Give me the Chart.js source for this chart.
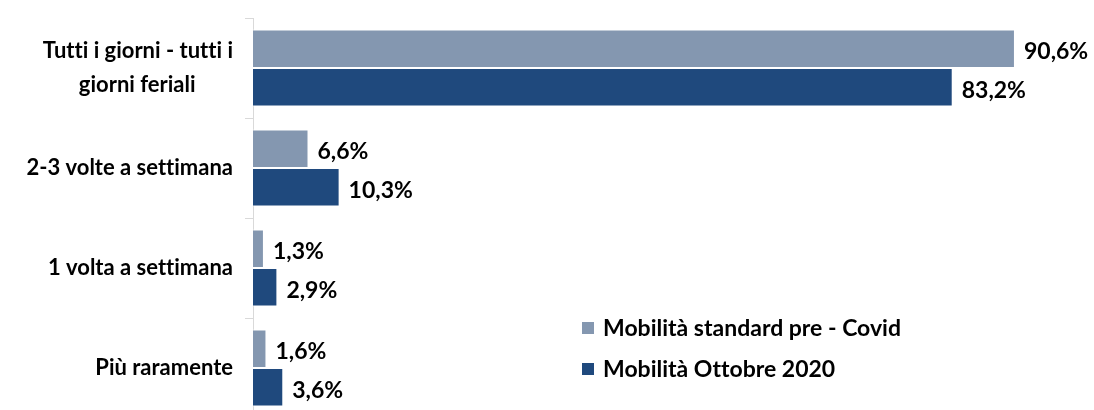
<!DOCTYPE html>
<html>
<head>
<meta charset="utf-8">
<script src="https://cdn.jsdelivr.net/npm/chart.js@4.4.1/dist/chart.umd.min.js"></script>
<style>
html,body{margin:0;padding:0;background:#fff;overflow:hidden;height:410px;}
#wrap{position:relative;width:1094px;height:418px;}
</style>
</head>
<body>
<div id="wrap"><canvas id="c"></canvas></div>
<script>
const categories = [
  ['Tutti i giorni - tutti i', 'giorni feriali\u00A0\u00A0\u00A0\u00A0\u00A0\u00A0\u00A0'],
  '2-3 volte a settimana',
  '1 volta a settimana',
  'Più raramente'
];
const seriesNames = ['Mobilità standard pre - Covid', 'Mobilità Ottobre 2020'];
const preCovid = [90.6, 6.6, 1.3, 1.6];
const ottobre2020 = [83.2, 10.3, 2.9, 3.6];
const colors = ['#8497B0', '#1F497D'];

const FONT = 'Lato, "Open Sans", sans-serif';

const noLigatures = {
  id: 'noLigatures',
  beforeDraw(chart) {
    const ctx = chart.ctx;
    try { ctx.textRendering = 'optimizeSpeed'; } catch (e) {}
  }
};

const valueLabels = {
  id: 'valueLabels',
  afterDatasetsDraw(chart) {
    const ctx = chart.ctx;
    ctx.save();
    try { ctx.textRendering = 'optimizeSpeed'; } catch (e) {}
    ctx.font = 'bold 23px ' + FONT;
    ctx.fillStyle = '#000';
    ctx.textAlign = 'left';
    ctx.textBaseline = 'middle';
    chart.data.datasets.forEach((ds, i) => {
      const meta = chart.getDatasetMeta(i);
      meta.data.forEach((bar, j) => {
        const txt = ds.data[j].toFixed(1).replace('.', ',') + '%';
        ctx.fillText(txt, bar.x + 9, bar.y + 3);
      });
    });
    ctx.restore();
  }
};

const customLegend = {
  id: 'customLegend',
  afterDraw(chart) {
    const ctx = chart.ctx;
    ctx.save();
    try { ctx.textRendering = 'optimizeSpeed'; } catch (e) {}
    ctx.font = 'bold 23px ' + FONT;
    ctx.textBaseline = 'middle';
    ctx.textAlign = 'left';
    const ys = [328, 369];
    chart.data.datasets.forEach((ds, i) => {
      ctx.fillStyle = ds.backgroundColor;
      ctx.fillRect(582, ys[i] - 6, 12, 12);
      ctx.fillStyle = '#000';
      ctx.fillText(ds.label, 603, ys[i] + 1);
    });
    ctx.restore();
  }
};

new Chart(document.getElementById('c'), {
  type: 'bar',
  data: {
    labels: categories,
    datasets: [
      { label: seriesNames[0], data: preCovid, backgroundColor: colors[0], borderColor: '#fff', borderWidth: 1, borderSkipped: 'start' },
      { label: seriesNames[1], data: ottobre2020, backgroundColor: colors[1], borderColor: '#fff', borderWidth: 1, borderSkipped: 'start' }
    ]
  },
  options: {
    indexAxis: 'y',
    responsive: true,
    maintainAspectRatio: false,
    animation: false,
    layout: { padding: { top: 18, bottom: 0, left: 0, right: 0 } },
    datasets: { bar: { barPercentage: 1, categoryPercentage: 0.77 } },
    plugins: {
      legend: { display: false },
      tooltip: { enabled: false }
    },
    scales: {
      x: {
        min: 0, max: 100,
        display: false,
        grid: { display: false }
      },
      y: {
        afterFit(scale) { scale.width = 253; scale.paddingTop = 0; scale.paddingBottom = 0; },
        border: { display: true, color: '#D9D9D9', width: 1 },
        grid: { display: true, drawOnChartArea: false, drawTicks: true, tickLength: 8, color: '#D9D9D9' },
        ticks: {
          color: '#000',
          padding: 12,
          font: { family: FONT, size: 22, weight: 'bold', lineHeight: 1.55 }
        }
      }
    }
  },
  plugins: [noLigatures, valueLabels, customLegend]
});
</script>
</body>
</html>
